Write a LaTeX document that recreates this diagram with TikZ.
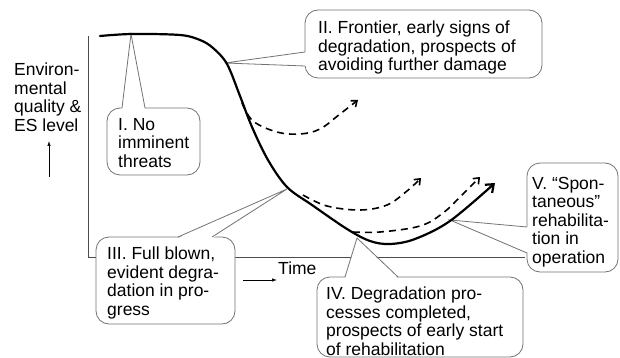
\documentclass[tikz,border=0pt]{standalone}
\usepackage{fontspec}
\setmainfont{Liberation Sans}
\usetikzlibrary{arrows.meta}
\begin{document}
\begin{tikzpicture}[x=1pt,y=-1pt,
  lbl/.style={anchor=north west, inner sep=0pt, align=left, font=\fontsize{17.5}{18.4}\selectfont},
  box/.style={draw=black!55, fill=white, line width=0.8pt, rounded corners=13pt},
  ptr/.style={draw=black!55, line width=0.8pt, line join=miter},
  ptrfill/.style={fill=white},
  axis/.style={draw=black!70, line width=0.8pt},
  smallarrow/.style={line width=0.7pt, -{Latex[length=5pt,width=3.5pt]}},
  maincurve/.style={line width=2.2pt, line cap=round, -{Straight Barb[length=7pt,width=11pt]}},
  dashcurve/.style={line width=1.6pt, dash pattern=on 7pt off 5pt, -{Straight Barb[length=5pt,width=8pt]}}
]
\useasboundingbox (0,0) rectangle (620,358);

% axes
\coordinate (ytop) at (88,36);
\coordinate (orig) at (88,257);
\coordinate (xend) at (525,257);
\draw[axis] (ytop) -- (orig) -- (xend);

% axis labels
\node[lbl] (ylab) at (14,63) {Environ-\\mental\\quality \&\\ES level};
\coordinate (ya) at (49,177);
\coordinate (yb) at (49,141);
\draw[smallarrow] (ya) -- (yb);
\node[lbl] (time) at (278,262) {Time};
\coordinate (ta) at (243,280);
\coordinate (tb) at (277,280);
\draw[smallarrow] (ta) -- (tb);

% Callout I
\draw[box] (107,108) rectangle (200,175);
\coordinate (tipI) at (131,34);
\fill[ptrfill] (122,109.5) -- (tipI) -- (145,109.5) -- cycle;
\draw[ptr] (122,108) -- (tipI) -- (145,108);
\node[lbl] (cI) at (118,118) {I. No\\imminent\\threats};

% Callout II
\draw[box] (305,10) rectangle (542,78);
\coordinate (tipII) at (225,63);
\fill[ptrfill] (306.5,52) -- (tipII) -- (306.5,66) -- cycle;
\draw[ptr] (305,52) -- (tipII) -- (305,66);
\node[lbl] (cII) at (318,21) {II. Frontier, early signs of\\degradation, prospects of\\avoiding further damage};

% Callout III
\draw[box] (96,237) rectangle (235,324);
\coordinate (tipIII) at (287,189);
\fill[ptrfill] (178,238.5) -- (tipIII) -- (212,238.5) -- cycle;
\draw[ptr] (178,237) -- (tipIII) -- (212,237);
\node[lbl] (cIII) at (107,247) {III. Full blown,\\evident degra-\\dation in pro-\\gress};

% Callout IV
\draw[box] (317,277) rectangle (523,357);
\coordinate (tipIV) at (357,238);
\fill[ptrfill] (345,278.5) -- (tipIV) -- (398,278.5) -- cycle;
\draw[ptr] (345,277) -- (tipIV) -- (398,277);
\node[lbl] (cIV) at (326,287) {IV. Degradation pro-\\cesses completed,\\prospects of early start\\of rehabilitation};

% Callout V
\draw[box] (527,163) rectangle (618,272);
\coordinate (tipV) at (450,220);
\fill[ptrfill] (528.5,227) -- (tipV) -- (528.5,253) -- cycle;
\draw[ptr] (527,227) -- (tipV) -- (527,253);
\node[lbl] (cV) at (532,177) {V. “Spon-\\taneous”\\rehabilita-\\tion in\\operation};

% curves
\draw[maincurve] plot[smooth, tension=0.55] coordinates {(100,36) (132,34) (180,35) (200,40) (213,48) (227,64) (240,96) (252,127) (268,160) (287,187) (312,205) (347,229) (370,241) (390,244) (415,239) (450,221) (495,183)};
\draw[dashcurve] plot[smooth, tension=0.6] coordinates {(242,103) (253,121) (277,132) (300,134) (320,129) (340,114) (358,100)};
\draw[dashcurve] plot[smooth, tension=0.6] coordinates {(303,195) (327,206) (360,210) (387,205) (407,191) (421,178)};
\draw[dashcurve] plot[smooth, tension=0.6] coordinates {(353,232) (380,232) (420,226) (443,213) (463,194) (480,177)};
\end{tikzpicture}
\end{document}
